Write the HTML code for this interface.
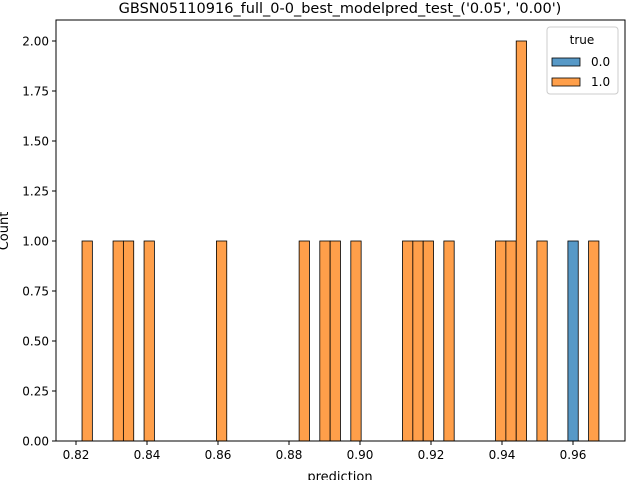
<!DOCTYPE html>
<html><head><meta charset="utf-8"><style>
body{margin:0;background:#fff}
svg{font-family:"DejaVu Sans","Liberation Sans",sans-serif}
</style></head><body>
<svg id="c" width="640" height="480" xmlns="http://www.w3.org/2000/svg"></svg>
<script>
const predictions1 = [0.8217,0.8319,0.8348,0.8406,0.8610,0.8843,0.8902,0.8931,0.8989,0.9135,0.9164,0.9193,0.9251,0.9397,0.9426,0.9455,0.9455,0.9513,0.9673];
const predictions0 = [0.9600];
const xTicks = [0.82,0.84,0.86,0.88,0.90,0.92,0.94,0.96];
const yTicks = [0,0.25,0.5,0.75,1,1.25,1.5,1.75,2];
const nBins = 50;
const NS="http://www.w3.org/2000/svg";
const svg=document.getElementById('c');
const L=56,R=625,T=20,B=441;
const x=v=>76+(v-0.82)*3550;
const y=v=>B-v*200;
function mk(tag,attrs,parent){const e=document.createElementNS(NS,tag);for(const k in attrs)e.setAttribute(k,attrs[k]);(parent||svg).appendChild(e);return e;}
const all=predictions1.concat(predictions0);
const lo=Math.min(...all), hi=Math.max(...all), w=(hi-lo)/nBins;
function counts(arr){const c=new Array(nBins).fill(0);arr.forEach(v=>{let i=Math.floor((v-lo)/w);if(i>=nBins)i=nBins-1;c[i]++;});return c;}
const c1=counts(predictions1), c0=counts(predictions0);
const g=mk('g',{});


function drawBars(c,fill,name){c.forEach((n,i)=>{if(!n)return;const x0=x(lo+i*w),x1=x(lo+(i+1)*w);const r=mk('rect',{x:x0,y:y(n),width:x1-x0,height:y(0)-y(n),fill:fill,stroke:'#000','stroke-width':0.8},g);});}
drawBars(c1,'rgb(255,159,74)','true-1');
drawBars(c0,'rgb(87,153,199)','true-0');
const ax=mk('rect',{x:L,y:T,width:R-L,height:B-T,fill:'none',stroke:'#000','stroke-width':1});


xTicks.forEach(t=>{const px=x(t);mk('line',{x1:px,x2:px,y1:B,y2:B+4,stroke:'#000'});const tx=mk('text',{x:px,y:B+18,'font-size':12,'text-anchor':'middle'});tx.textContent=t.toFixed(2);});
yTicks.forEach(t=>{const py=y(t);mk('line',{x1:L-4,x2:L,y1:py,y2:py,stroke:'#000'});const tx=mk('text',{x:L-7,y:py+4.5,'font-size':12,'text-anchor':'end'});tx.textContent=t.toFixed(2);});
</script>
<svg width="640" height="480" style="position:absolute;left:0;top:0" xmlns="http://www.w3.org/2000/svg" font-family="DejaVu Sans, Liberation Sans, sans-serif">
<text x="340" y="13" font-size="14.5" text-anchor="middle">GBSN05110916_full_0-0_best_modelpred_test_('0.05', '0.00')</text>
<text x="340" y="481" font-size="13" text-anchor="middle">prediction</text>
<text transform="translate(8,231) rotate(-90)" font-size="13" text-anchor="middle">Count</text>
<g>
<rect x="547" y="27" width="71" height="67" rx="3" fill="#fff" fill-opacity="0.8" stroke="#ccc"/>
<text x="582" y="44" font-size="12" text-anchor="middle">true</text>
<rect x="552" y="58" width="28" height="8" fill="rgb(87,153,199)" stroke="#000" stroke-width="0.8"/>
<text x="591" y="66" font-size="12">0.0</text>
<rect x="552" y="78" width="28" height="8" fill="rgb(255,159,74)" stroke="#000" stroke-width="0.8"/>
<text x="591" y="86" font-size="12">1.0</text>
</g>
</svg>
</body></html>
